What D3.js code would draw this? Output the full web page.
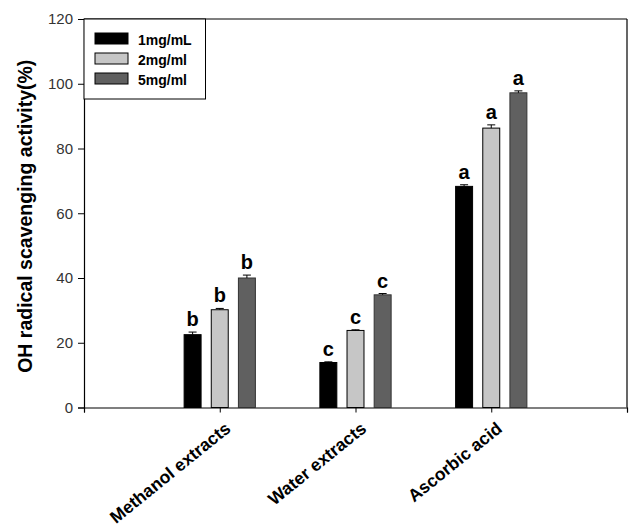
<!DOCTYPE html>
<html>
<head>
<meta charset="utf-8">
<script src="https://cdn.jsdelivr.net/npm/d3@7"></script>
<style>
  body { margin: 0; background: #fff; }
  svg { font-family: Arial, "Liberation Sans", sans-serif; }
</style>
</head>
<body>
<svg id="chart" width="629" height="526"></svg>
<script>
// data
const categories = ["Methanol extracts", "Water extracts", "Ascorbic acid"];
const seriesNames = ["1mg/mL", "2mg/ml", "5mg/ml"];
const values = [
  [22.5, 30.2, 40.0],
  [13.9, 23.8, 34.8],
  [68.3, 86.3, 97.2]
];
const errors = [
  [0.8, 0.4, 0.9],
  [0.2, 0.2, 0.4],
  [0.5, 1.0, 0.6]
];
const letters = [
  ["b", "b", "b"],
  ["c", "c", "c"],
  ["a", "a", "a"]
];
const yTicks = [0, 20, 40, 60, 80, 100, 120];

const colors = ["#000000", "#c6c6c6", "#606060"];
const strokes = ["#000000", "#000000", "#333333"];

const svg = d3.select("#chart");
const mLeft = 84, mRight = 627, mTop = 19, mBottom = 407.5;

const x = d3.scaleLinear().domain([0, 4]).range([mLeft, mRight]);
const y = d3.scaleLinear().domain([0, 120]).range([mBottom, mTop]);
const barW = 0.125, barStep = 0.2;

// frame top and right
svg.append("line").attr("x1", mLeft).attr("x2", mRight).attr("y1", mTop).attr("y2", mTop)
  .attr("stroke", "#000").attr("stroke-width", 1.2);
svg.append("line").attr("x1", mRight).attr("x2", mRight).attr("y1", mTop).attr("y2", mBottom)
  .attr("stroke", "#000").attr("stroke-width", 1.2);

// y axis
const yAxis = svg.append("g").attr("transform", `translate(${mLeft},0)`)
  .call(d3.axisLeft(y).tickValues(yTicks).tickSize(6).tickPadding(5));
yAxis.select(".domain").attr("stroke", "#000").attr("stroke-width", 1.2);
yAxis.selectAll(".tick line").attr("stroke", "#000");
yAxis.selectAll("text").attr("font-size", 15).attr("fill", "#333");

// x axis
const xAxis = svg.append("g").attr("transform", `translate(0,${mBottom})`)
  .call(d3.axisBottom(x).tickValues([0, 1, 2, 3, 4]).tickSize(5).tickFormat(""));
xAxis.select(".domain").attr("stroke", "#000").attr("stroke-width", 1.2);
xAxis.selectAll(".tick line").attr("stroke", "#000");

// category labels
svg.append("g").selectAll("text").data(categories).join("text")
  .attr("transform", (d, i) => `translate(${x(i + 1) + 12},${mBottom + 23}) rotate(-39)`)
  .attr("text-anchor", "end")
  .attr("font-size", 17.5).attr("font-weight", "bold")
  .text(d => d);

// bars
const bars = [];
values.forEach((row, ci) => row.forEach((v, si) => bars.push({ ci, si, v, e: errors[ci][si], l: letters[ci][si] })));
function pos(d) { return d.ci + 1 + (d.si - 1) * barStep; }
const cx = d => x(pos(d));

const g = svg.append("g");
g.selectAll("rect").data(bars).join("rect")
  .attr("x", d => x(pos(d) - barW / 2))
  .attr("width", d => x(barW) - x(0))
  .attr("y", d => y(d.v))
  .attr("height", d => y(0) - y(d.v))
  .attr("fill", d => colors[d.si])
  .attr("stroke", d => strokes[d.si]).attr("stroke-width", 1);

// error bars
g.selectAll("line.err").data(bars).join("line").attr("class", "err")
  .attr("x1", cx).attr("x2", cx)
  .attr("y1", d => y(d.v)).attr("y2", d => y(d.v + d.e))
  .attr("stroke", "#000");
g.selectAll("line.cap").data(bars).join("line").attr("class", "cap")
  .attr("x1", d => cx(d) - 4).attr("x2", d => cx(d) + 4)
  .attr("y1", d => y(d.v + d.e)).attr("y2", d => y(d.v + d.e))
  .attr("stroke", "#000");

// significance letters
g.selectAll("text").data(bars).join("text")
  .attr("x", cx).attr("y", d => y(d.v + d.e) - 6)
  .attr("text-anchor", "middle")
  .attr("font-size", 20).attr("font-weight", "bold")
  .text(d => d.l);

// legend
const leg = svg.append("g");
leg.append("rect").attr("x", mLeft).attr("y", mTop).attr("width", 121.5).attr("height", 80)
  .attr("fill", "#fff").attr("stroke", "#000").attr("stroke-width", 1);
const items = leg.selectAll("g").data(seriesNames).join("g")
  .attr("transform", (d, i) => `translate(95,${33 + i * 20})`);
items.append("rect").attr("width", 33).attr("height", 11)
  .attr("fill", (d, i) => colors[i]).attr("stroke", "#000");
items.append("text").attr("x", 43).attr("y", 11.5)
  .attr("font-size", 14).attr("font-weight", "bold").text(d => d);

// y title
svg.append("text")
  .attr("transform", `translate(32,${(mTop + mBottom) / 2 + 3}) rotate(-90)`)
  .attr("text-anchor", "middle")
  .attr("font-size", 19.5).attr("font-weight", "bold")
  .text("OH radical scavenging activity(%)");
</script>
</body>
</html>
